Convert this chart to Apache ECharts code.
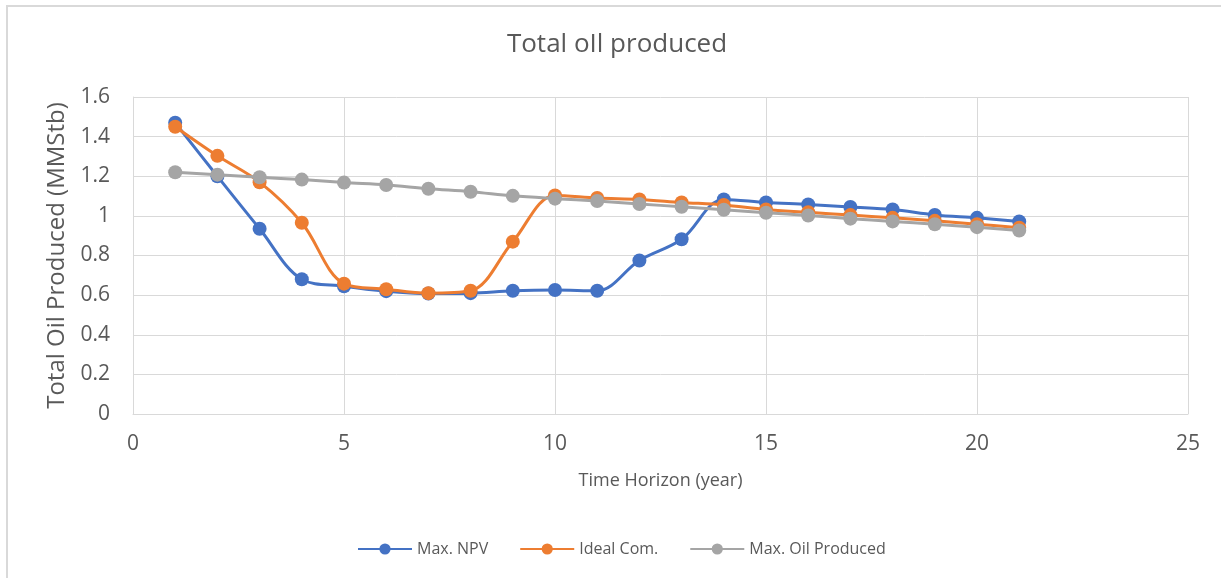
<!DOCTYPE html>
<html>
<head>
<meta charset="utf-8">
<script src="https://cdn.jsdelivr.net/npm/echarts@6/dist/echarts.min.js"></script>
<style>
  html, body { margin: 0; padding: 0; background: #fff; }
  #chart { width: 1221px; height: 578px; }
</style>
</head>
<body>
<div id="chart"></div>
<script>
// Years of the planning horizon
const years = [1, 2, 3, 4, 5, 6, 7, 8, 9, 10, 11, 12, 13, 14, 15, 16, 17, 18, 19, 20, 21];

// Total oil produced per strategy (MMStb)
const maxNPV = [1.47, 1.20, 0.935, 0.68, 0.645, 0.62, 0.608, 0.61, 0.622, 0.626, 0.622, 0.775, 0.882, 1.083, 1.068, 1.058, 1.045, 1.032, 1.005, 0.99, 0.972];
const idealCom = [1.45, 1.303, 1.17, 0.965, 0.658, 0.63, 0.61, 0.622, 0.87, 1.103, 1.09, 1.083, 1.068, 1.055, 1.032, 1.018, 1.004, 0.99, 0.975, 0.958, 0.94];
const maxOil = [1.22, 1.208, 1.195, 1.183, 1.168, 1.156, 1.137, 1.122, 1.101, 1.087, 1.075, 1.06, 1.046, 1.031, 1.016, 1.002, 0.986, 0.972, 0.958, 0.943, 0.926];

const seriesNames = ['Max. NPV', 'Ideal Com.', 'Max. Oil Produced'];
const seriesColors = ['#4472C4', '#ED7D31', '#A5A5A5'];
const seriesValues = [maxNPV, idealCom, maxOil];

const FONT = '"Open Sans", "Noto Sans", sans-serif';
const TEXT = '#595959';
const GRID = '#d9d9d9';

const chart = echarts.init(document.getElementById('chart'), null, { renderer: 'canvas' });

chart.setOption({
  backgroundColor: '#ffffff',
  animation: false,
  textStyle: { fontFamily: FONT, color: TEXT },
  graphic: [
    // chart frame (top and left edges)
    { type: 'line', shape: { x1: 6, y1: 6, x2: 1221, y2: 6 }, style: { stroke: GRID, lineWidth: 2 }, silent: true },
    { type: 'line', shape: { x1: 7, y1: 5, x2: 7, y2: 578 }, style: { stroke: GRID, lineWidth: 2 }, silent: true },
    // chart title
    {
      type: 'text', x: 617, y: 45, silent: true,
      style: {
        text: 'Total oIl produced', fontFamily: FONT, fontSize: 26,
        fill: TEXT, align: 'center', verticalAlign: 'middle'
      }
    }
  ],
  legend: {
    top: 536,
    left: 352,
    itemWidth: 54,
    itemHeight: 14,
    itemGap: 31,
    textStyle: { fontFamily: FONT, fontSize: 16, color: TEXT, padding: [0, 0, 0, 0] },
    data: seriesNames
  },
  grid: {
    left: 133,
    right: 1221 - 1188,
    top: 97,
    bottom: 578 - 414,
    containLabel: false
  },
  xAxis: {
    type: 'value',
    min: 0,
    max: 25,
    interval: 5,
    name: 'Time Horizon (year)',
    nameLocation: 'middle',
    nameGap: 58,
    nameTextStyle: { fontFamily: FONT, fontSize: 18, color: TEXT },
    axisLine: { show: true, lineStyle: { color: GRID, width: 1 } },
    axisTick: { show: false },
    axisLabel: { fontFamily: FONT, fontSize: 21, color: TEXT, margin: 20 },
    splitLine: { show: true, lineStyle: { color: GRID, width: 1 } }
  },
  yAxis: {
    type: 'value',
    min: 0,
    max: 1.6,
    interval: 0.2,
    name: 'Total Oil Produced (MMStb)',
    nameLocation: 'middle',
    nameGap: 63,
    nameTextStyle: { fontFamily: FONT, fontSize: 24, color: TEXT },
    axisLine: { show: true, lineStyle: { color: GRID, width: 1 } },
    axisTick: { show: false },
    axisLabel: {
      fontFamily: FONT, fontSize: 21, color: TEXT, margin: 23,
      formatter: v => String(Math.round(v * 10) / 10)
    },
    splitLine: { show: true, lineStyle: { color: GRID, width: 1 } }
  },
  series: seriesNames.map((name, i) => ({
    name: name,
    type: 'line',
    smooth: 0.35,
    symbol: 'circle',
    symbolSize: 14,
    color: seriesColors[i],
    lineStyle: { width: 3, color: seriesColors[i] },
    itemStyle: { color: seriesColors[i] },
    data: years.map((y, k) => [y, seriesValues[i][k]]),
    z: 2 + i
  }))
});
</script>
</body>
</html>
